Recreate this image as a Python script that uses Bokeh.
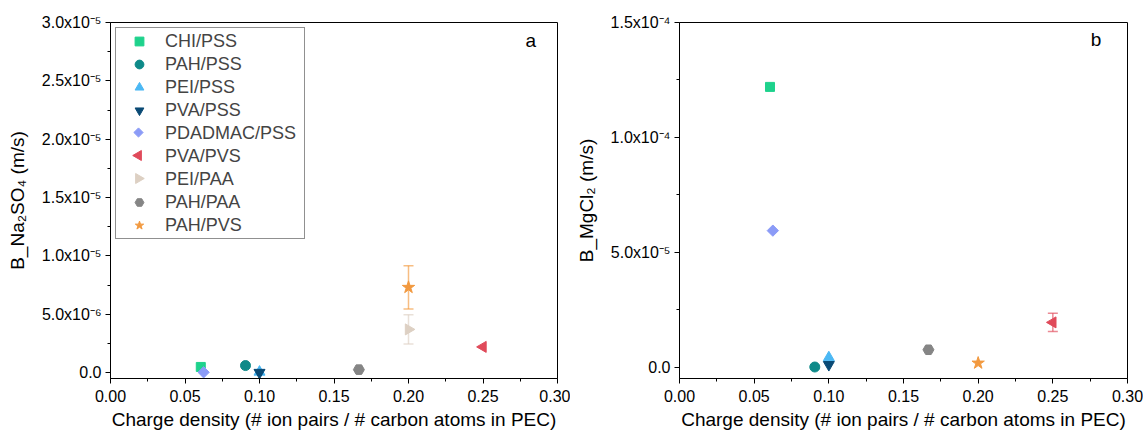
import math
from bokeh.plotting import figure
from bokeh.layouts import row
from bokeh.models import (ColumnDataSource, Whisker, TeeHead, Legend, LegendItem,
                          Label, Range1d, FixedTicker)
from bokeh.embed import file_html
from bokeh.resources import INLINE

# ---------------- data ----------------
categories = ["CHI/PSS", "PAH/PSS", "PEI/PSS", "PVA/PSS", "PDADMAC/PSS",
              "PVA/PVS", "PEI/PAA", "PAH/PAA", "PAH/PVS"]
charge_density = [0.0606, 0.0906, 0.100, 0.100, 0.0625, 0.250, 0.200, 0.1667, 0.200]

b_na2so4 = [4.8e-7, 6.0e-7, 0.5e-7, 0.0, 0.2e-7, 2.2e-6, 3.7e-6, 2.5e-7, 7.3e-6]
b_na2so4_err = [0.0, 0.0, 0.0, 0.0, 0.0, 0.0, 1.25e-6, 0.0, 1.85e-6]

b_mgcl2 = [1.22e-4, 2.0e-7, 4.3e-6, 1.2e-6, 5.95e-5, 1.96e-5, float("nan"), 7.7e-6, 1.9e-6]
b_mgcl2_err = [0.0, 0.0, 0.0, 0.0, 0.0, 4.0e-6, 0.0, 0.0, 0.0]

x_ticks = [0.0, 0.05, 0.10, 0.15, 0.20, 0.25, 0.30]
x_tick_labels = ["0.00", "0.05", "0.10", "0.15", "0.20", "0.25", "0.30"]

a_ticks = [0.0, 5e-6, 1.0e-5, 1.5e-5, 2.0e-5, 2.5e-5, 3.0e-5]
a_tick_labels = ["0.0", "5.0x10\u207b\u2076", "1.0x10\u207b\u2075", "1.5x10\u207b\u2075",
                 "2.0x10\u207b\u2075", "2.5x10\u207b\u2075", "3.0x10\u207b\u2075"]
b_ticks = [0.0, 5e-5, 1.0e-4, 1.5e-4]
b_tick_labels = ["0.0", "5.0x10\u207b\u2075", "1.0x10\u207b\u2074", "1.5x10\u207b\u2074"]

# ---------------- styles ----------------
colors = ["#1ED28C", "#0E8A89", "#4BB8F4", "#0A4A75", "#8B9BF7",
          "#E04A5A", "#DDD0C3", "#858585", "#F2993F"]
markers = ["square", "circle", "triangle", "inverted_triangle", "square",
           "triangle", "triangle", "hex", "star"]
angles = [0, 0, 0, 0, math.pi / 4, math.pi / 2, -math.pi / 2, 0, 0]
sizes = [9, 10, 11, 11, 8, 11, 11, 11, 13]
legend_sizes = [8, 9, 10, 10, 6.5, 10, 10, 9, 11]

FONT = "Liberation Sans"

# legend layout (pixels inside the frame)
LEG_MARGIN, LEG_PAD, LEG_GLYPH_W, LEG_ROW_H, LEG_SPACING = 5, 2, 42, 22, 1


def mid(vals):
    return [(vals[i] + vals[i + 1]) / 2 for i in range(len(vals) - 1)]


def make_panel(yvals, yerr, y_start, y_end, yticks, ylabels, ylabel, letter,
               letter_pos, width, border_left, border_right, with_legend):
    height, border_top, border_bottom = 435, 22, 57
    frame_w = width - border_left - border_right
    frame_h = height - border_top - border_bottom
    p = figure(width=width, height=height, output_backend="svg", toolbar_location=None,
               x_range=Range1d(0, 0.30), y_range=Range1d(y_start, y_end),
               min_border_left=border_left, min_border_right=border_right,
               min_border_top=border_top, min_border_bottom=border_bottom)
    p.extra_x_ranges = {"px": Range1d(0, frame_w)}
    p.extra_y_ranges = {"px": Range1d(frame_h, 0)}
    p.grid.visible = False
    p.outline_line_color = "black"
    p.outline_line_width = 1
    p.background_fill_color = "white"
    p.border_fill_color = "white"

    p.xaxis.ticker = FixedTicker(ticks=x_ticks, minor_ticks=mid(x_ticks))
    p.xaxis.major_label_overrides = dict(zip(x_ticks, x_tick_labels))
    p.yaxis.ticker = FixedTicker(ticks=yticks, minor_ticks=mid(yticks))
    p.yaxis.major_label_overrides = dict(zip(yticks, ylabels))

    for ax in (p.xaxis[0], p.yaxis[0]):
        ax.axis_line_color = "black"
        ax.major_tick_line_color = "black"
        ax.minor_tick_line_color = "black"
        ax.major_tick_in = 0
        ax.major_tick_out = 5
        ax.minor_tick_in = 0
        ax.minor_tick_out = 3
        ax.major_label_text_font = FONT
        ax.major_label_text_font_size = "16px"
        ax.major_label_text_color = "black"
        ax.axis_label_text_font = FONT
        ax.axis_label_text_font_size = "19px"
        ax.axis_label_text_font_style = "normal"
        ax.axis_label_text_color = "black"
    p.xaxis.axis_label = "Charge density (# ion pairs / # carbon atoms in PEC)"
    p.xaxis.major_label_standoff = 6
    p.xaxis.axis_label_standoff = 4
    p.yaxis.axis_label = ylabel
    p.yaxis.major_label_standoff = 4
    p.yaxis.axis_label_standoff = 11

    items = []
    for i, name in enumerate(categories):
        if yerr[i] > 0:
            src = ColumnDataSource(dict(x=[charge_density[i]],
                                        upper=[yvals[i] + yerr[i]],
                                        lower=[yvals[i] - yerr[i]]))
            w = Whisker(source=src, base="x", upper="upper", lower="lower",
                        dimension="height", line_color=colors[i], line_alpha=0.65,
                        line_width=1.5,
                        upper_head=TeeHead(size=10, line_color=colors[i], line_alpha=0.65,
                                           line_width=1.5),
                        lower_head=TeeHead(size=10, line_color=colors[i], line_alpha=0.65,
                                           line_width=1.5))
            p.add_layout(w)
        src = ColumnDataSource(dict(x=[charge_density[i]], y=[yvals[i]]))
        r = p.scatter("x", "y", source=src, marker=markers[i], angle=angles[i],
                      size=sizes[i], fill_color=colors[i], line_color=colors[i])
        if angles[i] == 0:
            items.append(LegendItem(label=name, renderers=[r]))
        else:
            # Bokeh legends ignore marker angles: blank legend glyph + rotated swatch below
            blank = p.scatter(x=[], y=[], marker="square", fill_alpha=0, line_alpha=0)
            items.append(LegendItem(label=name, renderers=[blank]))
            if with_legend:
                sx = LEG_MARGIN + LEG_PAD + LEG_GLYPH_W / 2
                sy = LEG_MARGIN + LEG_PAD + LEG_ROW_H / 2 + i * (LEG_ROW_H + LEG_SPACING)
                sw = ColumnDataSource(dict(x=[sx], y=[sy]))
                p.scatter("x", "y", source=sw, x_range_name="px", y_range_name="px",
                          marker=markers[i], angle=angles[i],
                          size=legend_sizes[i], fill_color=colors[i], line_color=colors[i])

    if with_legend:
        leg = Legend(items=items, location="top_left", margin=LEG_MARGIN, padding=LEG_PAD,
                     spacing=LEG_SPACING, glyph_width=LEG_GLYPH_W, glyph_height=LEG_ROW_H,
                     label_height=LEG_ROW_H, label_standoff=5,
                     label_width=137, label_text_font=FONT, label_text_font_size="18px",
                     border_line_color="#222222", border_line_width=1,
                     background_fill_alpha=0.0)
        p.add_layout(leg)

    p.add_layout(Label(x=letter_pos[0], y=letter_pos[1], text=letter,
                       text_font=FONT, text_font_size="19px", text_align="center",
                       text_baseline="middle", text_color="black"))
    return p


p1 = make_panel(b_na2so4, b_na2so4_err, -5.1e-7, 3.0e-5, a_ticks, a_tick_labels,
                "B_Na\u2082SO\u2084 (m/s)", "a", (0.282, 2.85e-5),
                570, 110, 13, True)
p2 = make_panel(b_mgcl2, b_mgcl2_err, -4.8e-6, 1.5e-4, b_ticks, b_tick_labels,
                "B_MgCl\u2082 (m/s)", "b", (0.279, 1.426e-4),
                573, 109, 16, False)

layout = row(p1, p2)
open("out.html", "w").write(file_html(layout, INLINE))
